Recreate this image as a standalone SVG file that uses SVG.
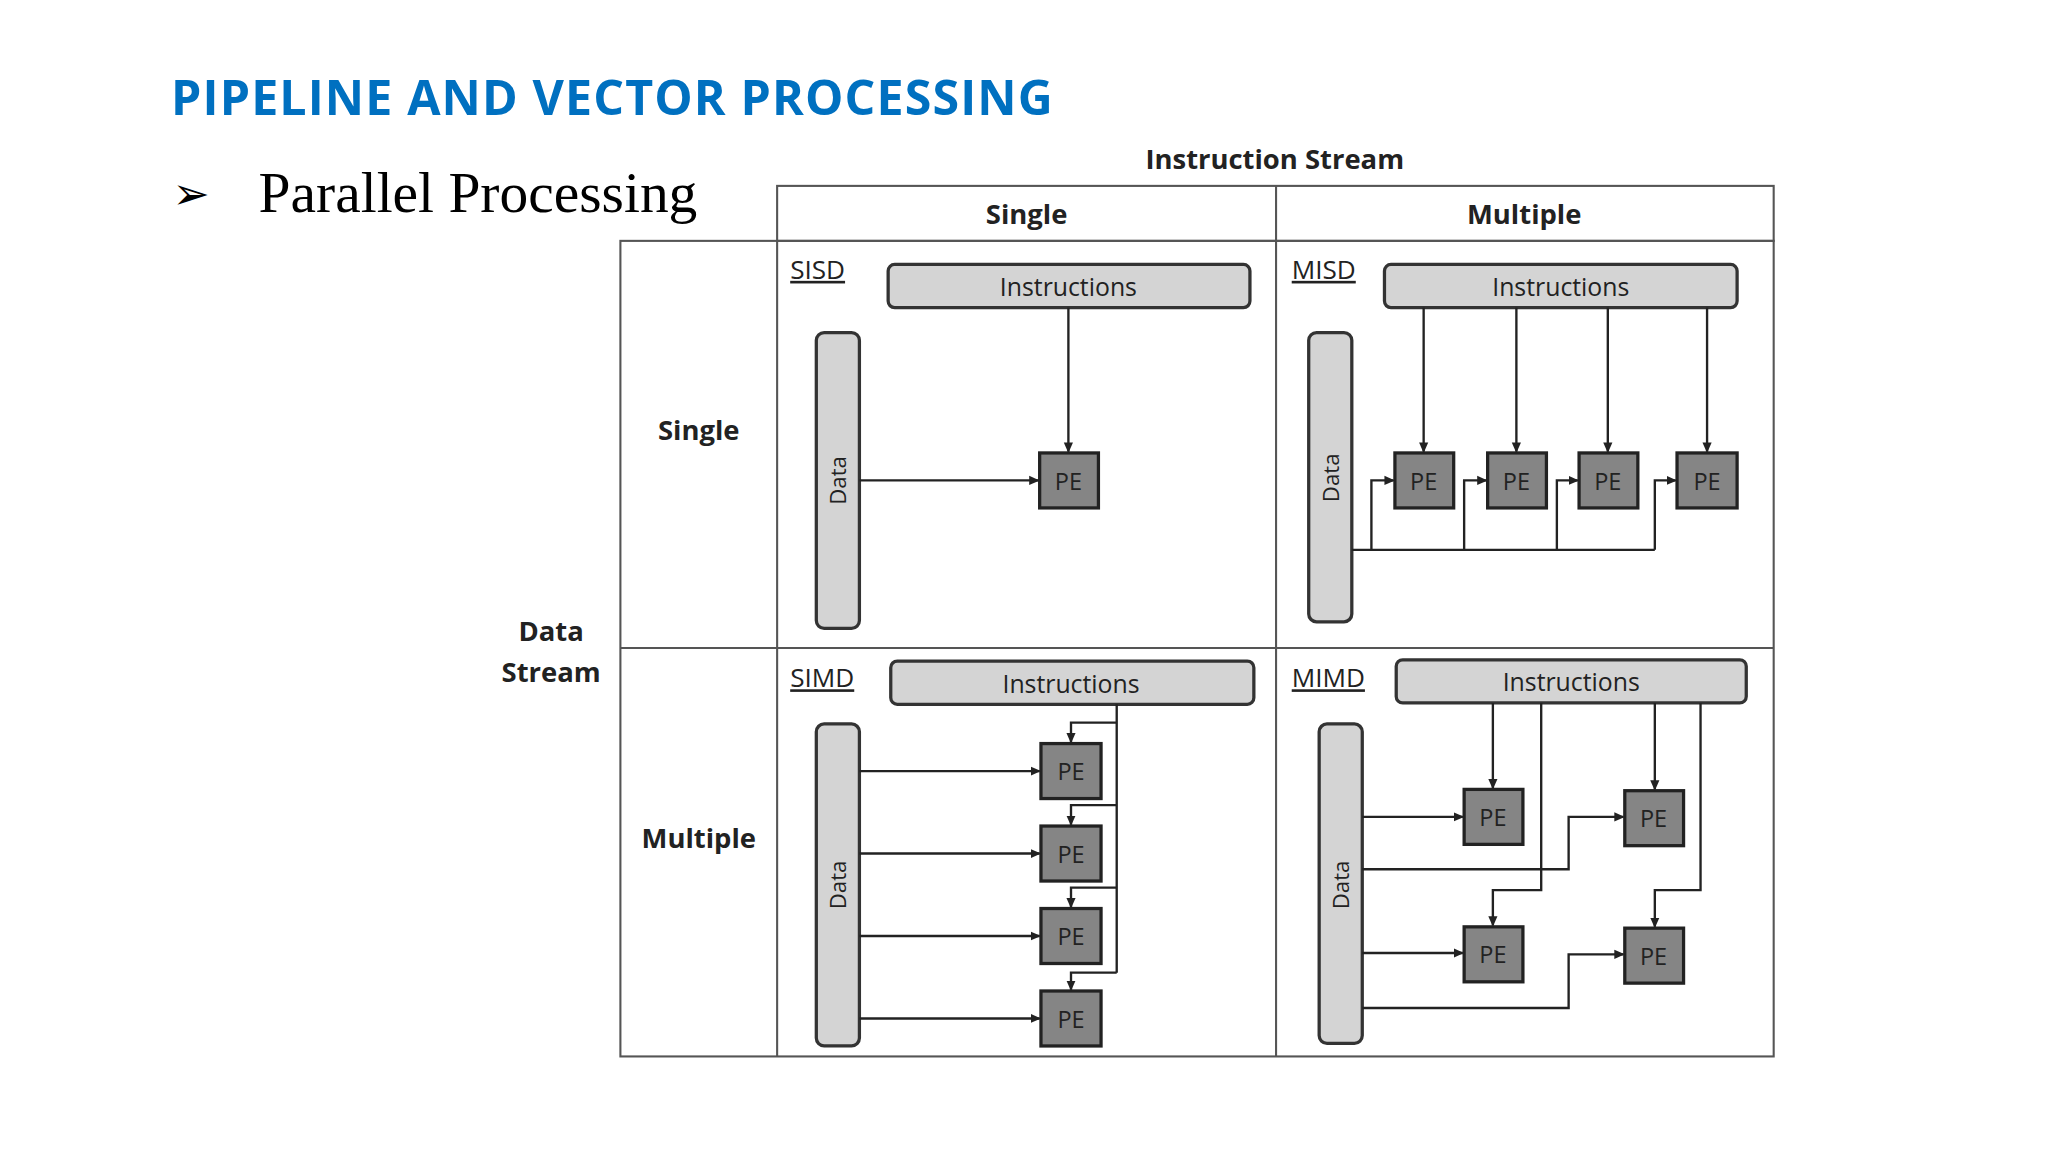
<svg xmlns="http://www.w3.org/2000/svg" width="2048" height="1152" viewBox="0 0 2048 1152">
<defs>
<marker id="ah" markerWidth="8" markerHeight="8" refX="7" refY="4" orient="auto" markerUnits="userSpaceOnUse"><path d="M0,0.5 L8,4 L0,7.5 Z" fill="#222"/></marker>
<style>
.t{font-family:"Open Sans","Liberation Sans",sans-serif;fill:#222}
.b{font-weight:bold}
.grid{fill:none;stroke:#555;stroke-width:1.6}
.inst{fill:#d4d4d4;stroke:#333;stroke-width:2.5}
.pe{fill:#858585;stroke:#222;stroke-width:2.5}
.ln{fill:none;stroke:#222;stroke-width:1.8}
.ar{fill:none;stroke:#222;stroke-width:1.8;marker-end:url(#ah)}
</style>
</defs>
<rect width="2048" height="1152" fill="#fff"/>
<g transform="scale(1.3061,1.3091)">
<g id="title">
<text x="131" y="88" font-family="Open Sans, Liberation Sans, sans-serif" font-weight="bold" font-size="37" fill="#0070C0" textLength="675">PIPELINE AND VECTOR PROCESSING</text>
<text x="132" y="160" font-family="DejaVu Sans, sans-serif" font-size="34" fill="#000">➢</text>
<text x="198" y="162" font-family="Liberation Serif, serif" font-size="44" fill="#000">Parallel Processing</text>
</g>
<g id="table">
<text class="t b" x="976" y="129" font-size="21" text-anchor="middle">Instruction Stream</text>
<rect class="grid" x="595" y="142" width="763" height="42"/>
<line class="grid" x1="977" y1="142" x2="977" y2="807"/>
<rect class="grid" x="475" y="184" width="883" height="623"/>
<line class="grid" x1="595" y1="184" x2="595" y2="807"/>
<line class="grid" x1="475" y1="495" x2="1358" y2="495"/>
<text class="t b" x="786" y="171" font-size="21" text-anchor="middle">Single</text>
<text class="t b" x="1167" y="171" font-size="21" text-anchor="middle">Multiple</text>
<text class="t b" x="535" y="336" font-size="21" text-anchor="middle">Single</text>
<text class="t b" x="535" y="648" font-size="21" text-anchor="middle">Multiple</text>
<text class="t b" x="422" y="490" font-size="21" text-anchor="middle">Data</text>
<text class="t b" x="422" y="521" font-size="21" text-anchor="middle">Stream</text>
</g>
<g id="sisd">
<text class="t" x="605" y="213" font-size="20" text-decoration="underline">SISD</text>
<rect class="inst" x="680" y="202" width="277" height="33" rx="5"/>
<text class="t" x="818" y="226" font-size="19" text-anchor="middle">Instructions</text>
<rect class="inst" x="625" y="254" width="33" height="226" rx="6"/>
<text class="t" x="648" y="367" font-size="17" text-anchor="middle" transform="rotate(-90 648 367)">Data</text>
<rect class="pe" x="796" y="346" width="45" height="42"/>
<text class="t" x="818" y="374" font-size="18" text-anchor="middle">PE</text>
</g>
<g id="misd">
<text class="t" x="989" y="213" font-size="20" text-decoration="underline">MISD</text>
<rect class="inst" x="1060" y="202" width="270" height="33" rx="5"/>
<text class="t" x="1195" y="226" font-size="19" text-anchor="middle">Instructions</text>
<rect class="inst" x="1002" y="254" width="33" height="221" rx="6"/>
<text class="t" x="1025" y="365" font-size="17" text-anchor="middle" transform="rotate(-90 1025 365)">Data</text>
<rect class="pe" x="1068" y="346" width="45" height="42"/><text class="t" x="1090" y="374" font-size="18" text-anchor="middle">PE</text>
<rect class="pe" x="1139" y="346" width="45" height="42"/><text class="t" x="1161" y="374" font-size="18" text-anchor="middle">PE</text>
<rect class="pe" x="1209" y="346" width="45" height="42"/><text class="t" x="1231" y="374" font-size="18" text-anchor="middle">PE</text>
<rect class="pe" x="1284" y="346" width="46" height="42"/><text class="t" x="1307" y="374" font-size="18" text-anchor="middle">PE</text>
</g>
<g id="simd">
<text class="t" x="605" y="525" font-size="20" text-decoration="underline">SIMD</text>
<rect class="inst" x="682" y="505" width="278" height="33" rx="5"/>
<text class="t" x="820" y="529" font-size="19" text-anchor="middle">Instructions</text>
<rect class="inst" x="625" y="553" width="33" height="246" rx="6"/>
<text class="t" x="648" y="676" font-size="17" text-anchor="middle" transform="rotate(-90 648 676)">Data</text>
<rect class="pe" x="797" y="568" width="46" height="42"/><text class="t" x="820" y="596" font-size="18" text-anchor="middle">PE</text>
<rect class="pe" x="797" y="631" width="46" height="42"/><text class="t" x="820" y="659" font-size="18" text-anchor="middle">PE</text>
<rect class="pe" x="797" y="694" width="46" height="42"/><text class="t" x="820" y="722" font-size="18" text-anchor="middle">PE</text>
<rect class="pe" x="797" y="757" width="46" height="42"/><text class="t" x="820" y="785" font-size="18" text-anchor="middle">PE</text>
</g>
<g id="mimd">
<text class="t" x="989" y="525" font-size="20" text-decoration="underline">MIMD</text>
<rect class="inst" x="1069" y="504" width="268" height="33" rx="5"/>
<text class="t" x="1203" y="528" font-size="19" text-anchor="middle">Instructions</text>
<rect class="inst" x="1010" y="553" width="33" height="244" rx="6"/>
<text class="t" x="1033" y="676" font-size="17" text-anchor="middle" transform="rotate(-90 1033 676)">Data</text>
<rect class="pe" x="1121" y="603" width="45" height="42"/><text class="t" x="1143" y="631" font-size="18" text-anchor="middle">PE</text>
<rect class="pe" x="1244" y="604" width="45" height="42"/><text class="t" x="1266" y="632" font-size="18" text-anchor="middle">PE</text>
<rect class="pe" x="1121" y="708" width="45" height="42"/><text class="t" x="1143" y="736" font-size="18" text-anchor="middle">PE</text>
<rect class="pe" x="1244" y="709" width="45" height="42"/><text class="t" x="1266" y="737" font-size="18" text-anchor="middle">PE</text>
</g>
<g id="connectors">
<path class="ar" d="M818,235 V345"/>
<path class="ar" d="M658,367 H795"/>
<path class="ar" d="M1090,235 V345"/>
<path class="ar" d="M1161,235 V345"/>
<path class="ar" d="M1231,235 V345"/>
<path class="ar" d="M1307,235 V345"/>
<path class="ln" d="M1035,420 H1267"/>
<path class="ar" d="M1050,420 V367 H1067"/>
<path class="ar" d="M1121,420 V367 H1138"/>
<path class="ar" d="M1192,420 V367 H1208"/>
<path class="ar" d="M1267,420 V367 H1283"/>
<path class="ln" d="M855,538 V743"/>
<path class="ar" d="M855,552 H820 V567"/>
<path class="ar" d="M855,615 H820 V630"/>
<path class="ar" d="M855,678 H820 V693"/>
<path class="ar" d="M855,743 H820 V756"/>
<path class="ar" d="M658,589 H796"/>
<path class="ar" d="M658,652 H796"/>
<path class="ar" d="M658,715 H796"/>
<path class="ar" d="M658,778 H796"/>
<path class="ar" d="M1143,537 V602"/>
<path class="ar" d="M1180,537 V680 H1143 V707"/>
<path class="ar" d="M1267,537 V603"/>
<path class="ar" d="M1302,537 V680 H1267 V708"/>
<path class="ar" d="M1043,624 H1120"/>
<path class="ar" d="M1043,664 H1201 V624 H1243"/>
<path class="ar" d="M1043,728 H1120"/>
<path class="ar" d="M1043,770 H1201 V729 H1243"/>
</g>
</g>
</svg>
